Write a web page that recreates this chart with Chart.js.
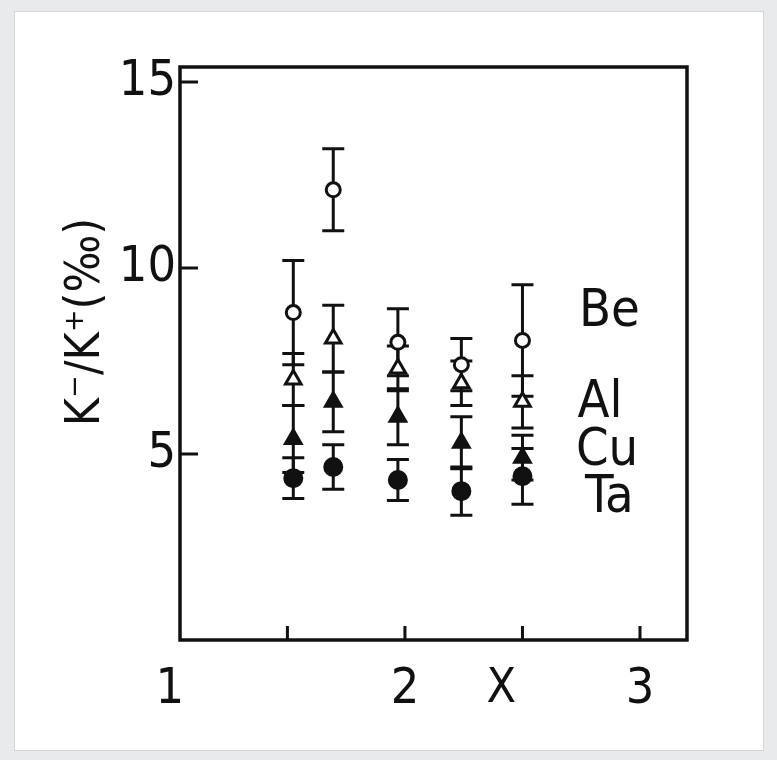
<!DOCTYPE html>
<html>
<head>
<meta charset="utf-8">
<script src="https://cdn.jsdelivr.net/npm/chart.js@4/dist/chart.umd.min.js"></script>
<style>
  html, body { margin: 0; padding: 0; background: #e9eaec; }
  #panel {
    position: absolute; left: 14px; top: 11px;
    width: 748px; height: 738px;
    background: #fff; border: 1px solid #d4d5d8;
  }
  #plot { display: block; }
</style>
</head>
<body>
<div id="panel"><canvas id="plot" width="748" height="738"></canvas></div>
<script>
const xPos = [1.525, 1.695, 1.97, 2.24, 2.5];

const beVals = [8.8, 12.1, 8.0, 7.4, 8.05];
const beErr = [1.4, 1.1, 0.9, 0.7, 1.5];
const alVals = [7.0, 8.1, 7.3, 6.9, 6.4];
const alErr = [0.7, 0.9, 0.6, 0.6, 0.7];
const cuVals = [5.4, 6.4, 6.0, 5.3, 4.9];
const cuErr = [0.9, 0.8, 0.75, 0.7, 0.6];
const taVals = [4.35, 4.65, 4.3, 4.0, 4.4];
const taErr = [0.55, 0.6, 0.55, 0.65, 0.75];

const xTickLabels = [1, 2, 3];
const xTickMarks = [1.5, 2, 2.5, 3];
const yTickLabels = [5, 10, 15];

const seriesNames = ['Be', 'Al', 'Cu', 'Ta'];
const nameX = [2.87, 2.83, 2.86, 2.87];
const nameY = [8.8, 6.36, 5.08, 3.8];

const ink = '#111';
const fontFam = '"Liberation Sans Narrow", "DejaVu Sans Condensed", "DejaVu Sans", sans-serif';

function pts(vals) {
  return vals.map((v, i) => ({ x: xPos[i], y: v }));
}

const errs = [beErr, alErr, cuErr, taErr];

// error bars, inward ticks, frame and text labels
const decor = {
  id: 'decor',
  beforeDatasetsDraw(chart) {
    const ctx = chart.ctx;
    const xs = chart.scales.x, ys = chart.scales.y;
    ctx.save();
    ctx.strokeStyle = ink;
    ctx.lineWidth = 3;
    chart.data.datasets.forEach((ds, d) => {
      ds.data.forEach((p, i) => {
        const px = xs.getPixelForValue(p.x);
        const top = ys.getPixelForValue(p.y + errs[d][i]);
        const bot = ys.getPixelForValue(p.y - errs[d][i]);
        ctx.beginPath();
        ctx.moveTo(px, top); ctx.lineTo(px, bot);
        ctx.moveTo(px - 11, top); ctx.lineTo(px + 11, top);
        ctx.moveTo(px - 11, bot); ctx.lineTo(px + 11, bot);
        ctx.stroke();
      });
    });
    ctx.restore();
  },
  afterDraw(chart) {
    const ctx = chart.ctx;
    const a = chart.chartArea;
    const xs = chart.scales.x, ys = chart.scales.y;
    ctx.save();
    ctx.strokeStyle = ink;
    ctx.lineWidth = 3.5;
    ctx.strokeRect(a.left, a.top, a.right - a.left, a.bottom - a.top);
    ctx.lineWidth = 3;
    ctx.beginPath();
    yTickLabels.forEach(v => {
      const py = ys.getPixelForValue(v);
      ctx.moveTo(a.left, py); ctx.lineTo(a.left + 18, py);
    });
    xTickMarks.forEach(v => {
      const px = xs.getPixelForValue(v);
      ctx.moveTo(px, a.bottom); ctx.lineTo(px, a.bottom - 14);
    });
    ctx.stroke();

    ctx.fillStyle = ink;
    ctx.textAlign = 'center';
    ctx.textBaseline = 'middle';
    ctx.font = '52px ' + fontFam;
    seriesNames.forEach((n, i) => {
      ctx.fillText(n, xs.getPixelForValue(nameX[i]), ys.getPixelForValue(nameY[i]));
    });

    // axis titles
    ctx.font = '48px ' + fontFam;
    ctx.fillText('X', xs.getPixelForValue(2.41), a.bottom + 50);
    ctx.translate(72, 310);
    ctx.rotate(-Math.PI / 2);
    ctx.fillText('K\u207B/K\u207A(\u2030)', 0, 0);
    ctx.restore();
  }
};

new Chart(document.getElementById('plot'), {
  type: 'scatter',
  data: {
    datasets: [
      { label: 'Be', data: pts(beVals), pointStyle: 'circle', pointRadius: 7,
        backgroundColor: '#fff', borderColor: ink, borderWidth: 3 },
      { label: 'Al', data: pts(alVals), pointStyle: 'triangle', pointRadius: 9,
        backgroundColor: '#fff', borderColor: ink, borderWidth: 3 },
      { label: 'Cu', data: pts(cuVals), pointStyle: 'triangle', pointRadius: 10,
        backgroundColor: ink, borderColor: ink, borderWidth: 2 },
      { label: 'Ta', data: pts(taVals), pointStyle: 'circle', pointRadius: 9,
        backgroundColor: ink, borderColor: ink, borderWidth: 2 }
    ]
  },
  options: {
    responsive: false,
    animation: false,
    layout: { padding: { top: 55, right: 76, left: 0, bottom: 0 } },
    plugins: { legend: { display: false }, tooltip: { enabled: false } },
    scales: {
      x: {
        type: 'linear', min: 1.043, max: 3.2,
        afterBuildTicks: s => { s.ticks = xTickLabels.map(v => ({ value: v })); },
        afterFit: s => { s.height = 110; },
        grid: { display: false, drawTicks: false },
        border: { display: false },
        ticks: { color: ink, padding: 20, font: { size: 50, family: fontFam },
          callback: v => String(v) }
      },
      y: {
        min: 0, max: 15.4,
        afterBuildTicks: s => { s.ticks = yTickLabels.map(v => ({ value: v })); },
        afterFit: s => { s.width = 165; },
        grid: { display: false, drawTicks: false },
        border: { display: false },
        ticks: { color: ink, padding: 4, font: { size: 50, family: fontFam },
          callback: v => String(v) }
      }
    }
  },
  plugins: [decor]
});
</script>
</body>
</html>
